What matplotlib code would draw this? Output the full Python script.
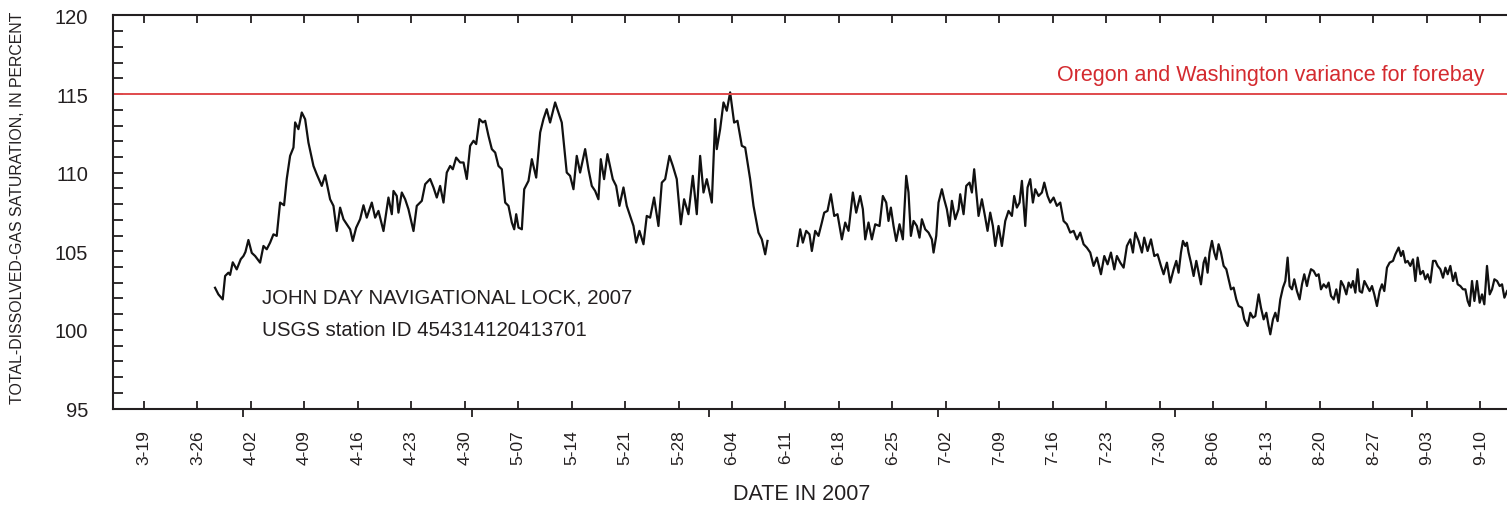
import numpy as np
import pandas as pd
import matplotlib
matplotlib.use('Agg')
import matplotlib.pyplot as plt
import matplotlib.dates as mdates
from matplotlib.ticker import MultipleLocator, FuncFormatter

# day of year 2007 (fractional) and total dissolved gas saturation, percent
# record before the gap in early June
doy_a = [87.30, 87.74, 88.31, 88.62, 89.05, 89.27, 89.62, 90.14, 90.67, 91.02,
         91.28, 91.67, 92.11, 92.55, 93.20, 93.64, 94.07, 94.51, 94.95, 95.38,
         95.60, 95.82, 96.34, 96.69, 97.13, 97.57, 97.79, 98.22, 98.66, 99.10,
         99.53, 100.19, 100.62, 101.28, 101.72, 102.37, 102.81, 103.24, 103.68, 104.12,
         104.55, 104.99, 105.34, 105.78, 106.30, 106.74, 107.17, 107.83, 108.27, 108.70,
         109.36, 110.01, 110.45, 110.67, 111.10, 111.32, 111.76, 112.20, 112.63, 113.29,
         113.72, 114.38, 114.82, 115.47, 115.91, 116.34, 116.78, 117.22, 117.65, 118.09,
         118.44, 118.88, 119.40, 119.84, 120.27, 120.71, 121.15, 121.50, 121.93, 122.37,
         122.68, 123.11, 123.55, 123.99, 124.42, 124.86, 125.30, 125.73, 126.17, 126.48,
         126.74, 127.04, 127.48, 127.79, 128.35, 128.79, 129.36, 129.88,
         130.31, 130.74, 131.18, 131.84, 132.27, 132.71, 133.36, 133.80, 134.24, 134.67,
         135.11, 135.77, 136.20, 136.64, 137.08, 137.51, 137.82, 138.25, 138.69, 139.39,
         139.83, 140.26, 140.79, 141.22, 141.66, 142.10, 142.45, 142.88, 143.41, 143.84,
         144.28, 144.80, 145.37, 145.81, 146.25, 146.81, 147.25, 147.77, 148.30, 148.73,
         149.30, 149.87, 150.39, 150.83, 151.27, 151.70, 152.36, 152.80, 153.01, 153.45,
         153.89, 154.32, 154.76, 155.28, 155.72, 156.29, 156.73, 157.38, 157.82, 158.47,
         158.91, 159.35, 159.65]
tdg_a = [102.68, 102.26, 101.94, 103.43, 103.64, 103.50, 104.30, 103.85, 104.50, 104.70,
         104.96, 105.72, 104.90, 104.70, 104.28, 105.34, 105.13, 105.55, 106.08, 105.98,
         107.04, 108.10, 107.93, 109.60, 111.07, 111.60, 113.20, 112.77, 113.83, 113.40,
         111.92, 110.43, 109.90, 109.16, 109.84, 108.31, 107.89, 106.29, 107.78, 107.04,
         106.72, 106.40, 105.66, 106.50, 107.04, 107.93, 107.14, 108.10, 107.14, 107.57,
         106.29, 108.42, 107.36, 108.84, 108.52, 107.46, 108.74, 108.31, 107.68, 106.29,
         107.89, 108.21, 109.27, 109.60, 109.06, 108.42, 109.16, 108.10, 110.01, 110.43,
         110.22, 110.96, 110.65, 110.65, 109.60, 111.71, 112.03, 111.82, 113.41, 113.20,
         113.30, 112.35, 111.50, 111.28, 110.43, 110.22, 108.10, 107.89, 106.83, 106.40,
         107.36, 106.51, 106.40, 108.95, 109.48, 110.86, 109.69, 112.56,
         113.41, 114.04, 113.19, 114.47, 113.83, 113.19, 110.01, 109.80, 108.95, 111.07,
         110.01, 111.50, 110.22, 109.16, 108.84, 108.31, 110.86, 109.59, 111.18, 109.59,
         109.16, 107.89, 109.06, 107.89, 107.25, 106.61, 105.55, 106.30, 105.45, 107.25,
         107.14, 108.42, 106.61, 109.37, 109.59, 111.07, 110.44, 109.59, 106.72, 108.31,
         107.36, 109.80, 107.36, 111.07, 108.74, 109.59, 108.10, 113.41, 111.50, 112.77,
         114.47, 113.94, 115.11, 113.19, 113.30, 111.71, 111.60, 109.59, 107.89, 106.19,
         105.76, 104.81, 105.66]

# record after the gap
doy_b = [163.58, 163.93, 164.28, 164.72, 165.15, 165.46, 165.90, 166.33, 166.77, 167.08,
         167.51, 167.95, 168.39, 168.82, 169.39, 169.83, 170.26, 170.83, 171.27, 171.79,
         172.14, 172.45, 172.88, 173.32, 173.76, 174.32, 174.76, 175.20, 175.50, 175.81,
         176.16, 176.51, 176.94, 177.38, 177.82, 178.12, 178.43, 178.78, 179.21, 179.56,
         179.87, 180.31, 180.74, 181.18, 181.40, 181.75, 182.05, 182.49, 182.79, 183.14,
         183.49, 183.80, 184.24, 184.67, 184.89, 185.33, 185.68, 186.11, 186.42, 186.72,
         186.99, 187.29, 187.73, 188.17, 188.47, 188.82, 189.17, 189.48, 189.91, 190.35,
         190.79, 191.22, 191.66, 191.96, 192.31, 192.66, 192.97, 193.41, 193.71, 194.06,
         194.41, 194.72, 195.15, 195.59, 195.90, 196.33, 196.68, 197.12, 197.55, 197.99,
         198.43, 198.86, 199.30, 199.74, 200.17, 200.61, 201.05, 201.48, 201.92, 202.36,
         202.79, 203.32, 203.76, 204.19, 204.63, 205.07, 205.41, 205.85, 206.29, 206.72,
         207.16, 207.51, 207.82, 208.25, 208.69, 208.99, 209.43, 209.87, 210.31, 210.74,
         211.18, 211.53, 211.96, 212.40, 212.84, 213.19, 213.49,
         213.80, 214.06, 214.37, 214.58, 214.80, 215.11, 215.46, 215.81, 216.11, 216.42,
         216.77, 216.99, 217.29, 217.55, 217.86, 218.16, 218.43, 218.73, 219.04, 219.39,
         219.74, 220.04, 220.35, 220.70, 221.05, 221.35, 221.79, 222.09, 222.53, 222.88,
         223.23, 223.54, 223.97, 224.28, 224.63, 224.98, 225.28, 225.50, 225.85, 226.16,
         226.46, 226.81, 227.16, 227.47, 227.77, 228.03, 228.34, 228.64, 228.99, 229.34,
         229.65, 229.95, 230.30, 230.52, 230.83, 231.18, 231.53, 231.83, 232.14, 232.49,
         232.84, 233.14, 233.45, 233.80, 234.15, 234.45, 234.76, 235.11, 235.46, 235.76,
         236.07, 236.33, 236.64, 236.94, 237.20, 237.51, 237.82, 238.16, 238.51, 238.82,
         239.12, 239.47, 239.82, 240.13, 240.43, 240.78, 241.13, 241.57, 241.88, 242.31,
         242.62, 242.88, 243.19, 243.49, 243.84, 244.19, 244.50, 244.80, 245.15, 245.50,
         245.81, 246.11, 246.46, 246.81, 247.12, 247.42, 247.77, 248.12, 248.43, 248.73,
         249.08, 249.43, 249.74, 250.04, 250.39, 250.74, 251.05, 251.35, 251.61, 251.92,
         252.23, 252.57, 252.92, 253.23, 253.53, 253.88, 254.23, 254.54, 254.85, 255.20,
         255.54, 255.85, 256.16, 256.51]
tdg_b = [105.34, 106.40, 105.55, 106.30, 106.08, 105.02, 106.30, 105.98, 106.83, 107.46,
         107.57, 108.63, 107.25, 107.36, 105.76, 106.83, 106.30, 108.74, 107.46, 108.52,
         107.68, 105.76, 106.83, 105.76, 106.72, 106.61, 108.52, 108.10, 106.93, 107.78,
         106.61, 105.66, 106.72, 105.76, 109.80, 108.74, 105.98, 106.93, 106.61, 105.87,
         107.04, 106.40, 106.19, 105.76, 104.92, 105.98, 108.10, 108.95, 108.31, 107.68,
         106.61, 108.21, 107.04, 107.68, 108.63, 107.36, 109.16, 109.37, 108.74, 110.22,
         108.84, 107.25, 108.31, 107.14, 106.30, 107.46, 106.61, 105.34, 106.61, 105.34,
         106.93, 107.57, 107.25, 108.52, 107.78, 108.10, 109.48, 106.61, 109.06, 109.59,
         108.10, 108.95, 108.52, 108.74, 109.37, 108.52, 108.10, 108.42, 107.89, 108.10,
         106.93, 106.72, 106.19, 106.30, 105.76, 106.19, 105.45, 105.23, 104.92, 104.07,
         104.60, 103.54, 104.70, 104.17, 104.92, 103.85, 104.70, 104.28, 103.96, 105.34,
         105.76, 104.92, 106.19, 105.66, 104.92, 105.87, 105.02, 105.76, 104.70, 104.81,
         104.07, 103.54, 104.28, 103.01, 103.85, 104.39, 103.64,
         104.92, 105.66, 105.34, 105.55, 104.92, 104.28, 103.43, 104.39, 103.64, 102.90,
         104.28, 104.60, 103.64, 104.92, 105.66, 104.92, 104.49, 105.45, 104.92, 104.07,
         103.86, 103.22, 102.58, 102.69, 101.94, 101.52, 101.41, 100.67, 100.25, 101.09,
         100.78, 100.88, 102.26, 101.41, 100.67, 101.09, 100.25, 99.72, 100.67, 101.09,
         100.56, 101.94, 102.69, 103.11, 104.60, 102.79, 102.58, 103.22, 102.47, 101.94,
         102.90, 103.54, 102.79, 103.32, 103.86, 103.75, 103.43, 103.54, 102.58, 102.90,
         102.69, 103.01, 102.16, 101.94, 102.58, 101.73, 103.11, 102.79, 102.26, 103.01,
         102.69, 103.11, 102.37, 103.86, 102.47, 102.37, 103.11, 102.79, 102.47, 102.79,
         102.26, 101.52, 102.47, 102.90, 102.47, 103.96, 104.28, 104.39, 104.81, 105.24,
         104.70, 105.02, 104.28, 104.39, 104.07, 104.49, 103.11, 104.60, 103.54, 103.75,
         103.22, 103.54, 103.01, 104.39, 104.39, 104.07, 103.86, 103.32, 103.96, 103.54,
         104.07, 103.11, 103.64, 102.90, 102.79, 102.58, 102.58, 101.84, 101.52, 103.11,
         101.84, 103.11, 101.73, 102.26, 101.63, 104.07, 102.26, 102.58, 103.22, 103.11,
         102.79, 102.90, 102.05, 102.47]

variance_limit = 115
x_range_doy = [73.94, 256.5]


def to_dates(doy):
    return pd.Timestamp('2007-01-01') + pd.to_timedelta(np.array(doy) - 1, unit='D')


plt.rcParams['font.family'] = ['Liberation Sans', 'DejaVu Sans']
ink = '#231f20'

fig = plt.figure(figsize=(15.07, 5.06), dpi=100)
ax = fig.add_axes([0.075, 0.1907, 0.925, 0.7767])

ax.plot(to_dates(doy_a), tdg_a, color='#111111', lw=1.6)
ax.plot(to_dates(doy_b), tdg_b, color='#111111', lw=1.6)
ax.axhline(variance_limit, color='#e04a4c', lw=1.4)
ax.text(0.984, 0.851, 'Oregon and Washington variance for forebay', transform=ax.transAxes,
        ha='right', va='center', color='#d42a2f', fontsize=15.5)

ax.text(0.107, 0.284, 'JOHN DAY NAVIGATIONAL LOCK, 2007', transform=ax.transAxes,
        va='center', fontsize=14.7, color=ink)
ax.text(0.107, 0.200, 'USGS station ID 454314120413701', transform=ax.transAxes,
        va='center', fontsize=14.7, color=ink)

xr = to_dates(x_range_doy)
ax.set_xlim(xr[0], xr[1])
ax.set_ylim(95, 120)

ax.xaxis.set_major_locator(mdates.WeekdayLocator(byweekday=mdates.MO))
ax.xaxis.set_minor_locator(mdates.MonthLocator())
ax.xaxis.set_major_formatter(FuncFormatter(
    lambda x, p: f"{mdates.num2date(x).month}-{mdates.num2date(x).day:02d}"))
ax.yaxis.set_major_locator(MultipleLocator(5))
ax.yaxis.set_minor_locator(MultipleLocator(1))

ax.tick_params(axis='x', which='major', direction='in', length=5.5, width=1.3,
               top=True, bottom=True, pad=15, labelsize=12.5, labelrotation=90,
               colors=ink)
ax.tick_params(axis='x', which='minor', direction='out', length=6, width=1.3,
               top=False, bottom=True, colors=ink)
ax.tick_params(axis='y', which='both', direction='in', length=7.5, width=1.3,
               right=False, colors=ink)
ax.tick_params(axis='y', which='major', pad=18, labelsize=14.5)

ax.spines['right'].set_visible(False)
for s in ['left', 'bottom', 'top']:
    ax.spines[s].set_linewidth(1.5)
    ax.spines[s].set_color(ink)

fig.text(18 / 1507, 1 - 208 / 506, 'TOTAL-DISSOLVED-GAS SATURATION, IN PERCENT',
         rotation=90, ha='center', va='center', fontsize=11.4, color=ink)
fig.text(802 / 1507, 1 - 495 / 506, 'DATE IN 2007', ha='center', va='center',
         fontsize=15.5, color=ink)

fig.savefig('out.png', dpi=100)
